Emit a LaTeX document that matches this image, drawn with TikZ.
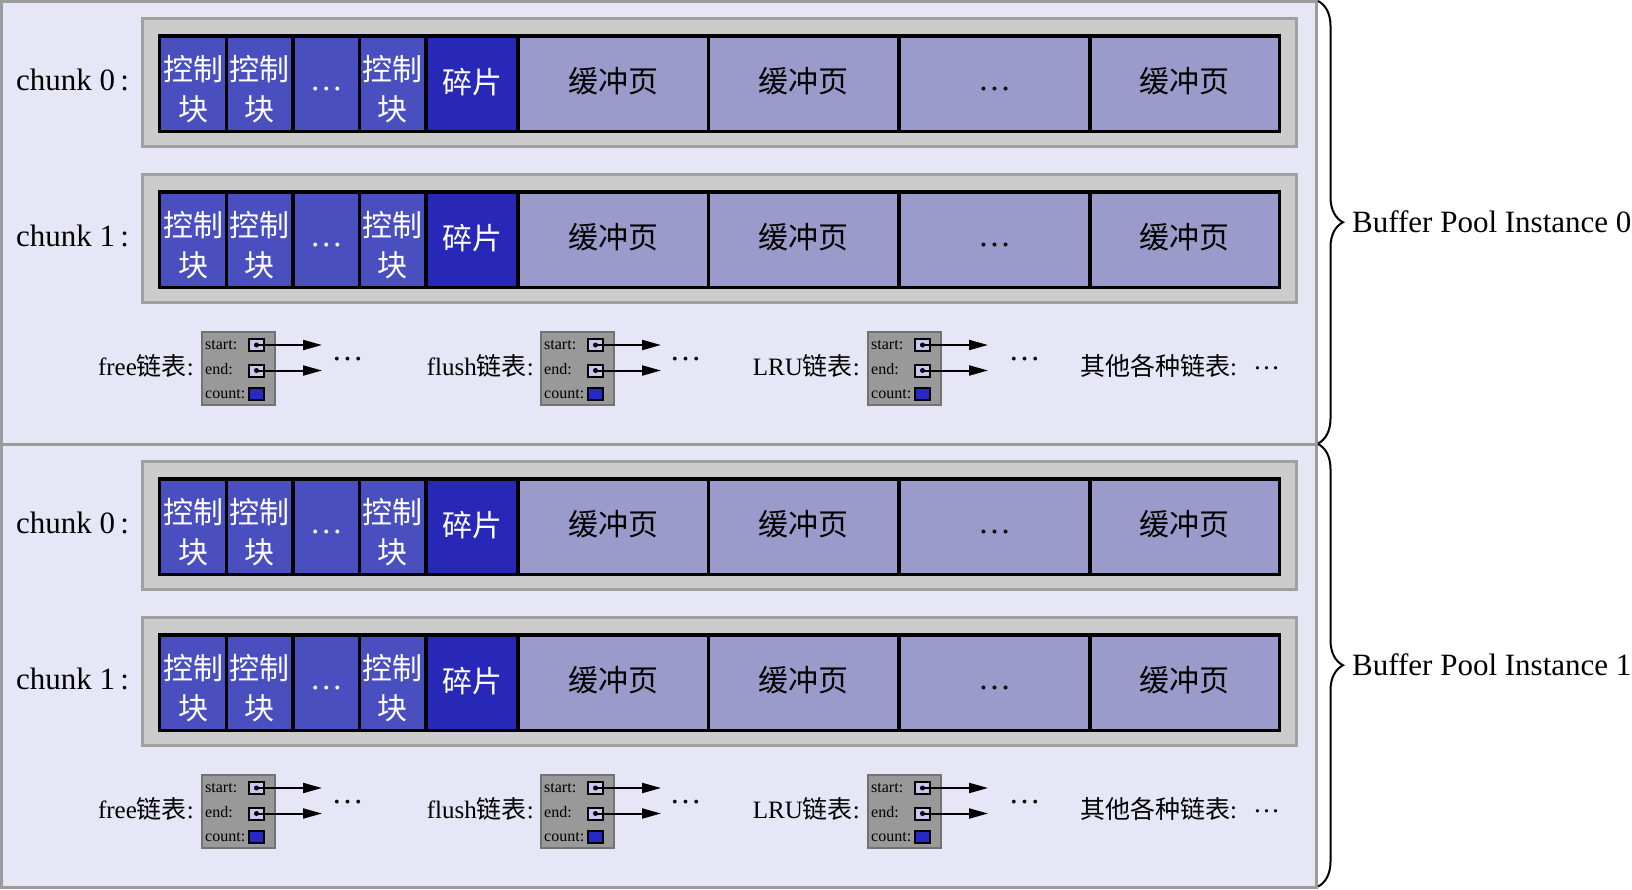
\documentclass[tikz,border=0pt]{standalone}
\usepackage{fontspec}
\setmainfont{Liberation Serif}
\newfontfamily\cjk{Noto Sans CJK SC}
\usetikzlibrary{arrows.meta,decorations.pathreplacing}
\definecolor{instfill}{RGB}{230,230,247}
\definecolor{instdraw}{RGB}{155,155,155}
\definecolor{framefill}{RGB}{204,204,204}
\definecolor{framedraw}{RGB}{160,160,160}
\definecolor{ctrlfill}{RGB}{74,79,192}
\definecolor{fragfill}{RGB}{40,40,184}
\definecolor{pagefill}{RGB}{155,155,203}
\definecolor{listfill}{RGB}{153,153,153}
\definecolor{listdraw}{RGB}{115,115,115}
\definecolor{ptrfill}{RGB}{200,200,240}
\definecolor{cntfill}{RGB}{40,40,200}
\newcommand\mylst[5]{%
  \node[lbox] (#1b) at (#2+37.5,368.5) {};
  \node[smalltxt] (#1s) at (#2+4,349) {start:};
  \node[smalltxt] (#1e) at (#2+4,374) {end:};
  \node[smalltxt] (#1c) at (#2+4,398) {count:};
  \node[ptrbox] (#1ps) at (#2+55.5,345) {};
  \node[ptrbox] (#1pe) at (#2+55.5,370.5) {};
  \node[cntbox] (#1pc) at (#2+55.5,393.5) {};
  \fill (#1ps.center) circle[radius=2.5pt];
  \fill (#1pe.center) circle[radius=2.5pt];
  \coordinate (#1ts) at (#2+121,345);
  \coordinate (#1te) at (#2+121,370.5);
  \draw[ptrarrow] (#1ps.center) -- (#1ts);
  \draw[ptrarrow] (#1pe.center) -- (#1te);
  \node[lsttxt] (#1l) at (#3,375) {#4};
  \node[listdots] (#1d) at (#5,359) {…};
}
\begin{document}
\begin{tikzpicture}[x=1pt,y=-1pt,
  instbox/.style={draw=instdraw, fill=instfill, line width=3pt, inner sep=0, rectangle},
  chunkframe/.style={draw=framedraw, fill=framefill, line width=3pt, inner sep=0},
  cellbox/.style={draw=black, line width=3.5pt, minimum height=95.5pt, inner sep=0},
  ctrlcell/.style={fill=ctrlfill},
  fragcell/.style={fill=fragfill},
  pagecell/.style={fill=pagefill},
  ctrltext/.style={text=white, font=\cjk\fontsize{30}{39.5}\selectfont, align=center, inner sep=0},
  fragtext/.style={text=white, font=\cjk\fontsize{30}{36}\selectfont, inner sep=0},
  pagetext/.style={text=black, font=\cjk\fontsize{30}{36}\selectfont, inner sep=0},
  celldots/.style={font=\fontsize{33}{33}\selectfont, inner sep=0},
  chunklbl/.style={font=\fontsize{31}{31}\selectfont, inner sep=0, anchor=base west},
  lsttxt/.style={font=\fontsize{25}{25}\selectfont, inner sep=0, anchor=base east},
  smalltxt/.style={font=\fontsize{16}{16}\selectfont, inner sep=0, anchor=base west},
  lbox/.style={draw=listdraw, fill=listfill, line width=2pt, minimum size=73pt, inner sep=0},
  ptrbox/.style={draw=black, fill=ptrfill, line width=2pt, minimum width=15pt, minimum height=12pt, inner sep=0},
  cntbox/.style={draw=black, fill=cntfill, line width=2pt, minimum width=15pt, minimum height=12pt, inner sep=0},
  ptrarrow/.style={line width=2pt, -{Triangle[length=19pt,width=10pt]}},
  bpbrace/.style={decorate, decoration={brace, amplitude=25pt}, line width=2pt},
  instlbl/.style={font=\fontsize{31}{31}\selectfont, inner sep=0, anchor=base west},
  listdots/.style={font=\fontsize{32}{32}\selectfont, inner sep=0}
]
\useasboundingbox (0,0) rectangle (1632,889);
\foreach \inst in {0,1}{
\begin{scope}[shift={(0,443*\inst)}]
  \node[instbox, minimum width=1315pt, minimum height=443pt] (inst\inst) at (659,223) {};
  \draw[bpbrace] (1318,1) -- (1318,443.5);
  \node[instlbl] (il\inst) at (1352,232) {Buffer Pool Instance \inst};
  \foreach \ch in {0,1}{
  \begin{scope}[shift={(0,156*\ch)}]
    \node[chunkframe, minimum width=1154pt, minimum height=128pt] (fr\inst\ch) at (719.5,82.5) {};
    \node[chunklbl] (cl\inst\ch) at (16,90) {chunk \ch\,:};
    \foreach \k/\l/\r/\sty in {1/159.5/226.5/ctrlcell, 2/226.5/293/ctrlcell, 3/293/359.5/ctrlcell, 4/359.5/426/ctrlcell, 5/426/518/fragcell, 6/518/708.5/pagecell, 7/708.5/899/pagecell, 8/899/1090/pagecell, 9/1090/1279.5/pagecell}{
      \node[cellbox,\sty, minimum width={\r-\l}] (c\inst\ch\k) at ({(\l+\r)/2},83.5) {};
    }
    \foreach \k in {1,2,4}{
      \node[ctrltext] (t\inst\ch\k) at ([yshift=-5.5pt]c\inst\ch\k.center) {控制\\块};
    }
    \node[celldots, text=white] (t\inst\ch3) at ([yshift=-5.5pt]c\inst\ch3.center) {…};
    \node[fragtext] (t\inst\ch5) at ([yshift=1.5pt]c\inst\ch5.center) {碎片};
    \foreach \k in {6,7,9}{
      \node[pagetext] (t\inst\ch\k) at ([yshift=2pt]c\inst\ch\k.center) {缓冲页};
    }
    \node[celldots] (t\inst\ch8) at ([yshift=-5.5pt]c\inst\ch8.center) {…};
  \end{scope}
  }
  \mylst{f\inst}{201}{194}{free{\cjk 链表}:}{347.5}
  \mylst{u\inst}{540}{534}{flush{\cjk 链表}:}{685.5}
  \mylst{r\inst}{867}{860}{LRU{\cjk 链表}:}{1024.5}
  \node[lsttxt, anchor=base west] (ol\inst) at (1080,375) {{\cjk 其他各种链表}:\hspace{16pt}\raisebox{6pt}{\fontsize{27}{27}\selectfont …}};
\end{scope}
}
\end{tikzpicture}
\end{document}
